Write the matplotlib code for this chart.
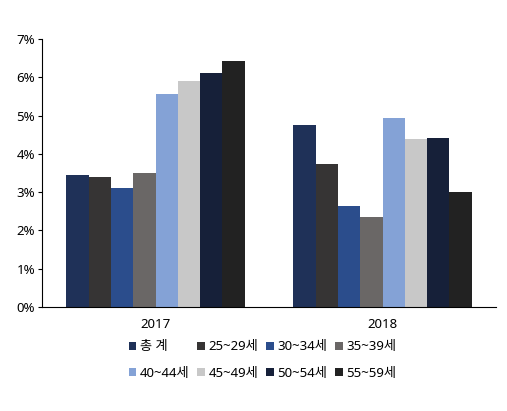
import matplotlib
matplotlib.use("Agg")
import matplotlib.pyplot as plt
import numpy as np
from matplotlib.ticker import FuncFormatter

plt.rcParams['font.family'] = ['Noto Sans', 'Noto Sans CJK KR', 'DejaVu Sans']

years = ['2017', '2018']
series = ['총 계', '25~29세', '30~34세', '35~39세', '40~44세', '45~49세', '50~54세', '55~59세']
values = {
    '총 계':   [3.45, 4.76],
    '25~29세': [3.40, 3.74],
    '30~34세': [3.11, 2.64],
    '35~39세': [3.50, 2.36],
    '40~44세': [5.57, 4.94],
    '45~49세': [5.91, 4.39],
    '50~54세': [6.12, 4.42],
    '55~59세': [6.42, 3.01],
}
colors = ['#1F3158', '#363434', '#2B4D8C', '#6A6766', '#84A2D6', '#C8C8C8', '#162039', '#222222']

fig = plt.figure(figsize=(5.07, 4.11), dpi=100)
ax = fig.add_axes([42/507, 104/411, 454/507, 268/411])

n = len(series)
group_w = 0.785
bw = group_w / n
x = np.arange(len(years))
handles = []
for i, s in enumerate(series):
    h = ax.bar(x - group_w/2 + bw*(i+0.5), values[s], width=bw, color=colors[i], label=s)
    handles.append(h)

ax.set_xlim(-0.5, 1.5)
ax.set_ylim(0, 7)
ax.set_yticks(np.arange(0, 8, 1))
ax.yaxis.set_major_formatter(FuncFormatter(lambda v, p: f'{int(v)}%'))
ax.set_xticks(x)
ax.set_xticklabels(years)
for sp in ['top', 'right']:
    ax.spines[sp].set_visible(False)
ax.tick_params(axis='x', length=0, labelsize=9.5, pad=8)
ax.tick_params(axis='y', length=3, labelsize=9.5, pad=2)

order = [0, 4, 1, 5, 2, 6, 3, 7]
leg = fig.legend([handles[i] for i in order], [series[i] for i in order],
                 loc='upper center', bbox_to_anchor=(0.518, 0.188), ncol=4, frameon=False,
                 fontsize=9.5, handlelength=0.55, handleheight=0.55, handletextpad=0.3,
                 columnspacing=0.6, labelspacing=1.0, borderpad=0)

fig.savefig('out.png', dpi=100)
